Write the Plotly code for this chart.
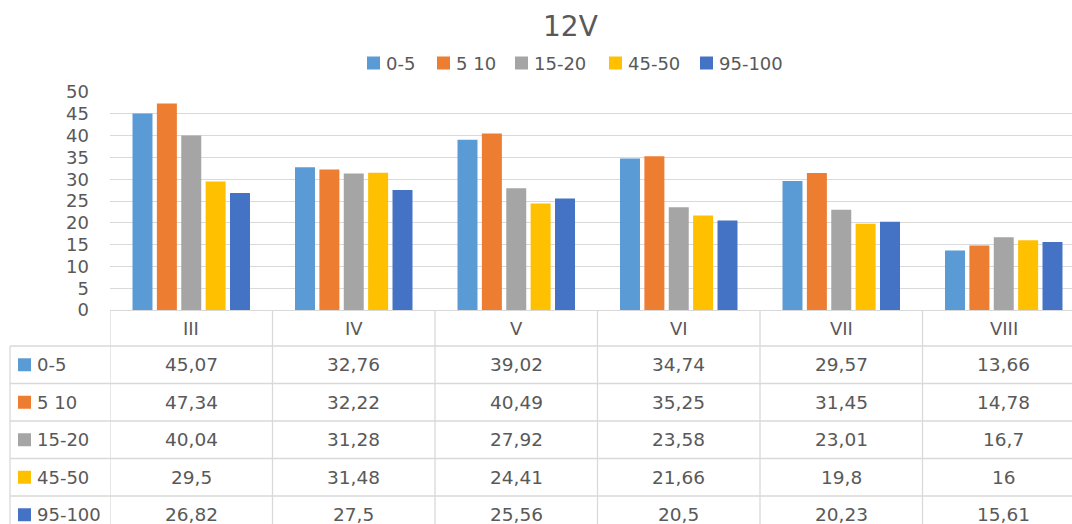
import plotly.graph_objects as go

# ---- data -------------------------------------------------------------
months = ["III", "IV", "V", "VI", "VII", "VIII"]
series_names = ["0-5", "5 10", "15-20", "45-50", "95-100"]
v_0_5 = [45.07, 32.76, 39.02, 34.74, 29.57, 13.66]
v_5_10 = [47.34, 32.22, 40.49, 35.25, 31.45, 14.78]
v_15_20 = [40.04, 31.28, 27.92, 23.58, 23.01, 16.7]
v_45_50 = [29.5, 31.48, 24.41, 21.66, 19.8, 16]
v_95_100 = [26.82, 27.5, 25.56, 20.5, 20.23, 15.61]
series_values = [v_0_5, v_5_10, v_15_20, v_45_50, v_95_100]
y_ticks = list(range(0, 51, 5))
chart_title = "12V"

# ---- styling ----------------------------------------------------------
colors = ["#5B9BD5", "#ED7D31", "#A5A5A5", "#FFC000", "#4472C4"]
W, H = 1072, 524
FONT = "DejaVu Sans"
TXT = "#595959"
GRID = "#D9D9D9"

plot_left, plot_top, plot_bottom = 110, 92, 310
plot_w = W - plot_left
plot_h = plot_bottom - plot_top
cat_px = 162.5  # width of one category band in pixels
x_max = -0.5 + plot_w / cat_px


# pixel position (from the figure's top-left corner) -> paper coordinates
def px(x):
    return (x - plot_left) / plot_w


def py(y):
    return (plot_bottom - y) / plot_h


def fmt(v):
    return f"{v:g}".replace(".", ",")


fig = go.Figure()
for name, vals, col in zip(series_names, series_values, colors):
    fig.add_trace(go.Bar(
        x=months, y=vals, name=name,
        marker=dict(color=col, line=dict(width=0)),
        showlegend=False,
    ))

shapes = []
annotations = []

# title
annotations.append(dict(
    text=chart_title, x=px(570), y=py(27), xref="paper", yref="paper",
    xanchor="center", yanchor="middle", showarrow=False,
    font=dict(family=FONT, size=28, color=TXT),
))

# legend above the plot
legend_key_left = [367, 437, 515, 609, 700]
key = 13
for name, col, kx in zip(series_names, colors, legend_key_left):
    shapes.append(dict(
        type="rect", xref="paper", yref="paper",
        x0=px(kx), x1=px(kx + key), y0=py(63 - key / 2), y1=py(63 + key / 2),
        fillcolor=col, line=dict(width=0),
    ))
    annotations.append(dict(
        text=name, x=px(kx + key + 4), y=py(63), xref="paper", yref="paper",
        xanchor="left", yanchor="middle", showarrow=False,
        font=dict(family=FONT, size=18, color=TXT),
    ))

# data table under the axis
row_top = 346
row_h = 37.5
n_rows = len(series_names)
table_bottom = row_top + row_h * n_rows

# horizontal rules
for i in range(n_rows + 1):
    y = row_top + i * row_h
    shapes.append(dict(
        type="line", xref="paper", yref="paper",
        x0=px(10), x1=1.0, y0=py(y), y1=py(y),
        line=dict(color=GRID, width=1.3),
    ))
# left border of the label column
shapes.append(dict(
    type="line", xref="paper", yref="paper",
    x0=px(10), x1=px(10), y0=py(row_top), y1=py(table_bottom),
    line=dict(color=GRID, width=1.3),
))
# column separators at category boundaries
for i in range(len(months) + 1):
    shapes.append(dict(
        type="line", xref="x", yref="paper",
        x0=i - 0.5, x1=i - 0.5, y0=py(plot_bottom), y1=py(table_bottom),
        line=dict(color=GRID, width=1.3),
    ))

# header row: category names
for i, m in enumerate(months):
    annotations.append(dict(
        text=m, x=i, y=py(328), xref="x", yref="paper",
        xanchor="center", yanchor="middle", showarrow=False,
        font=dict(family=FONT, size=18, color=TXT),
    ))

# body rows: legend key, series name, values
for r, (name, vals, col) in enumerate(zip(series_names, series_values, colors)):
    yc = row_top + r * row_h + row_h / 2
    shapes.append(dict(
        type="rect", xref="paper", yref="paper",
        x0=px(18), x1=px(31), y0=py(yc - 6.5), y1=py(yc + 6.5),
        fillcolor=col, line=dict(width=0),
    ))
    annotations.append(dict(
        text=name, x=px(35), y=py(yc), xref="paper", yref="paper",
        xanchor="left", yanchor="middle", showarrow=False,
        font=dict(family=FONT, size=18, color=TXT),
    ))
    for i, v in enumerate(vals):
        annotations.append(dict(
            text=fmt(v), x=i, y=py(yc), xref="x", yref="paper",
            xanchor="center", yanchor="middle", showarrow=False,
            font=dict(family=FONT, size=18.5, color=TXT),
        ))

fig.update_layout(
    width=W, height=H,
    margin=dict(l=plot_left, r=0, t=plot_top, b=H - plot_bottom, pad=0),
    paper_bgcolor="white", plot_bgcolor="white",
    barmode="group", bargap=0.25, bargroupgap=0.18,
    showlegend=False,
    shapes=shapes, annotations=annotations,
    font=dict(family=FONT, color=TXT),
    xaxis=dict(
        type="category", range=[-0.5, x_max], showticklabels=False,
        showgrid=False, zeroline=False, showline=False, ticks="",
        fixedrange=True,
    ),
    yaxis=dict(
        range=[0, 50], tickvals=y_ticks, showgrid=True, gridcolor=GRID,
        gridwidth=1, zeroline=True, zerolinecolor=GRID, zerolinewidth=1.3,
        showline=False, ticks="", ticklabelstandoff=20,
        tickfont=dict(family=FONT, size=18, color=TXT),
        fixedrange=True,
    ),
)

fig.write_html("out.html")
